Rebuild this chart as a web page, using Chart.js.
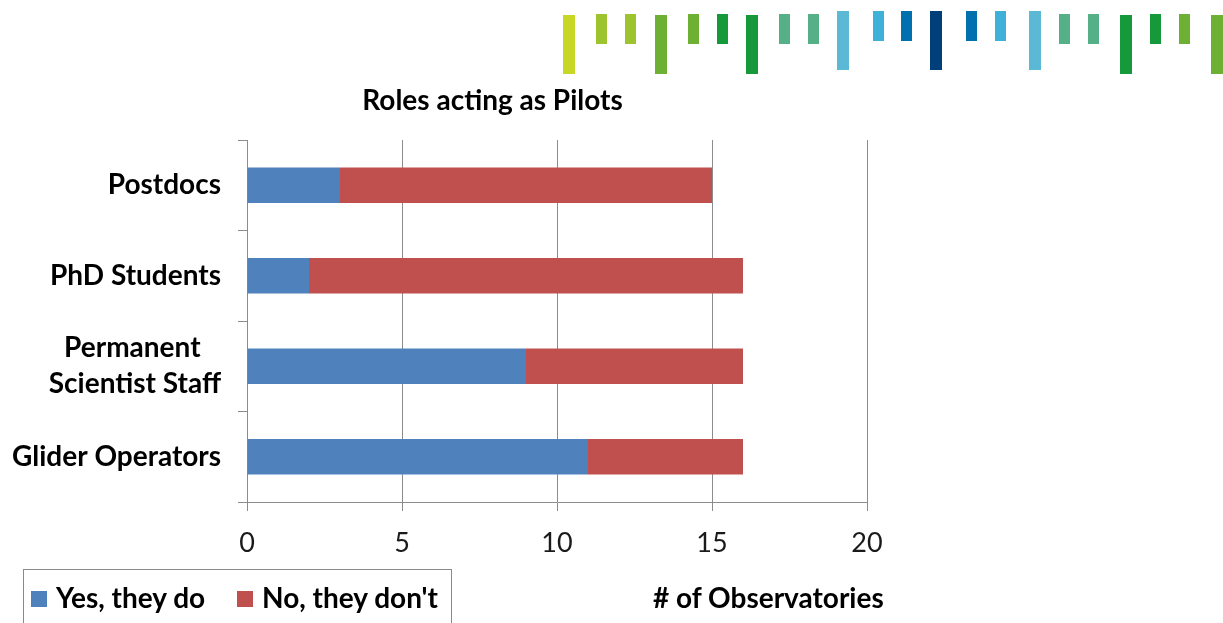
<!DOCTYPE html>
<html>
<head>
<meta charset="utf-8">
<script src="https://cdn.jsdelivr.net/npm/chart.js@4.4.1/dist/chart.umd.min.js"></script>
<style>
  body { margin: 0; background: #fff; font-family: Lato, "Open Sans", sans-serif; }
  #wrap { position: relative; width: 1223px; height: 623px; overflow: hidden; }
  #chart { position: absolute; left: 0; top: 0; }
  .deco { position: absolute; }
  #legend {
    position: absolute; left: 23px; top: 569px; width: 429px; height: 70px;
    border: 1px solid #8a8a8a; box-sizing: border-box;
  }
  .lg-item { position: absolute; font-weight: bold; font-size: 28px; line-height: 34px; color: #000; white-space: nowrap; }
  .lg-box { position: absolute; width: 16px; height: 16px; }
  #xtitle { position: absolute; left: 653px; top: 580px; font-weight: bold; font-size: 28px; line-height: 34px; color: #000; white-space: nowrap; }
</style>
</head>
<body>
<div id="wrap">
  <canvas id="chart" width="985" height="623"></canvas>
  <div id="legend"></div>
  <div id="xtitle"></div>
</div>
<script>
// data
var categories = ['Postdocs', 'PhD Students', ['Permanent   ', 'Scientist Staff'], 'Glider Operators'];
var seriesNames = ['Yes, they do', "No, they don't"];
var yesValues = [3, 2, 9, 11];
var noValues = [12, 14, 7, 5];
var xTickValues = [0, 5, 10, 15, 20];
var chartTitle = 'Roles acting as Pilots';
var xAxisTitle = '# of Observatories';

var seriesColors = ['#4f81bd', '#c0504d'];

// decorative stripe strip at the top (x, top, width, height, colour)
var stripes = [
    [563, 15, 12, 59, '#c8d626'], [596, 14, 11, 30, '#9dc32e'], [625, 14, 11, 30, '#9dc32e'],
    [655, 15, 12, 59, '#6db033'], [688, 14, 11, 30, '#6db033'], [717, 14, 11, 30, '#16993a'],
    [746, 15, 12, 59, '#16993a'], [779, 14, 11, 30, '#55b088'], [808, 14, 11, 30, '#55b088'],
    [837, 11, 12, 59, '#5cb9d6'], [873, 11, 11, 30, '#3fb0d8'], [901, 11, 11, 30, '#0071ae'],
    [930, 11, 12, 59, '#003f7a'], [966, 11, 11, 30, '#0071ae'], [995, 11, 11, 30, '#3fb0d8'],
    [1029, 11, 12, 59, '#5cb9d6'], [1059, 14, 11, 30, '#55b088'], [1088, 14, 11, 30, '#55b088'],
    [1120, 15, 12, 59, '#16993a'], [1150, 14, 11, 30, '#16993a'], [1179, 14, 11, 30, '#6db033'],
    [1211, 15, 12, 59, '#6db033']
];

(function () {
    var wrap = document.getElementById('wrap');
    for (var i = 0; i < stripes.length; i++) {
        var s = stripes[i];
        var d = document.createElement('div');
        d.className = 'deco';
        d.style.left = s[0] + 'px';
        d.style.top = s[1] + 'px';
        d.style.width = s[2] + 'px';
        d.style.height = s[3] + 'px';
        d.style.background = s[4];
        wrap.appendChild(d);
    }

    // legend (html, boxed like the original)
    var legend = document.getElementById('legend');
    var lgLeft = [7, 213];
    for (var k = 0; k < seriesNames.length; k++) {
        var box = document.createElement('div');
        box.className = 'lg-box';
        box.style.left = lgLeft[k] + 'px';
        box.style.top = '21px';
        box.style.background = seriesColors[k];
        legend.appendChild(box);
        var txt = document.createElement('div');
        txt.className = 'lg-item';
        txt.style.left = (lgLeft[k] + 25) + 'px';
        txt.style.top = '10px';
        txt.textContent = seriesNames[k];
        legend.appendChild(txt);
    }
    document.getElementById('xtitle').textContent = xAxisTitle;

    // title centred on the whole canvas, not on the plot
    var titlePlugin = {
        id: 'centerTitle',
        afterDraw: function (chart) {
            var c = chart.ctx;
            c.save();
            c.font = 'bold 28px Lato';
            c.fillStyle = '#000';
            c.textAlign = 'center';
            c.textBaseline = 'middle';
            c.fillText(chartTitle, chart.width / 2, 101);
            c.restore();
        }
    };

    var gridColor = '#8c8c8c';
    var ctx = document.getElementById('chart');
    var myChart = new Chart(ctx, {
        type: 'bar',
        data: {
            labels: categories,
            datasets: [
                { label: seriesNames[0], data: yesValues, backgroundColor: seriesColors[0] },
                { label: seriesNames[1], data: noValues, backgroundColor: seriesColors[1] }
            ]
        },
        options: {
            indexAxis: 'y',
            responsive: false,
            animation: false,
            devicePixelRatio: 1,
            layout: { padding: { left: 0, right: 118, top: 140, bottom: 0 } },
            datasets: { bar: { categoryPercentage: 1, barPercentage: 0.39 } },
            plugins: {
                legend: { display: false },
                tooltip: { enabled: false },
                title: { display: false }
            },
            scales: {
                x: {
                    stacked: true,
                    min: 0,
                    max: 20,
                    afterBuildTicks: function (scale) {
                        scale.ticks = xTickValues.map(function (v) { return { value: v }; });
                    },
                    afterFit: function (scale) { scale.height = 121; },
                    grid: { color: gridColor, lineWidth: 1, tickLength: 9, drawTicks: true },
                    border: { color: gridColor, width: 1 },
                    ticks: {
                        color: '#1a1a1a',
                        padding: 16,
                        maxRotation: 0,
                        font: { family: 'Lato', size: 27 }
                    }
                },
                y: {
                    stacked: true,
                    afterFit: function (scale) { scale.width = 247; },
                    grid: { drawOnChartArea: false, color: gridColor, tickLength: 9, offset: true },
                    border: { color: gridColor, width: 1 },
                    ticks: {
                        color: '#000',
                        padding: 17,
                        font: { family: 'Lato', size: 28, weight: 'bold', lineHeight: 1.29 }
                    }
                }
            }
        },
        plugins: [titlePlugin]
    });
}());
</script>
</body>
</html>
